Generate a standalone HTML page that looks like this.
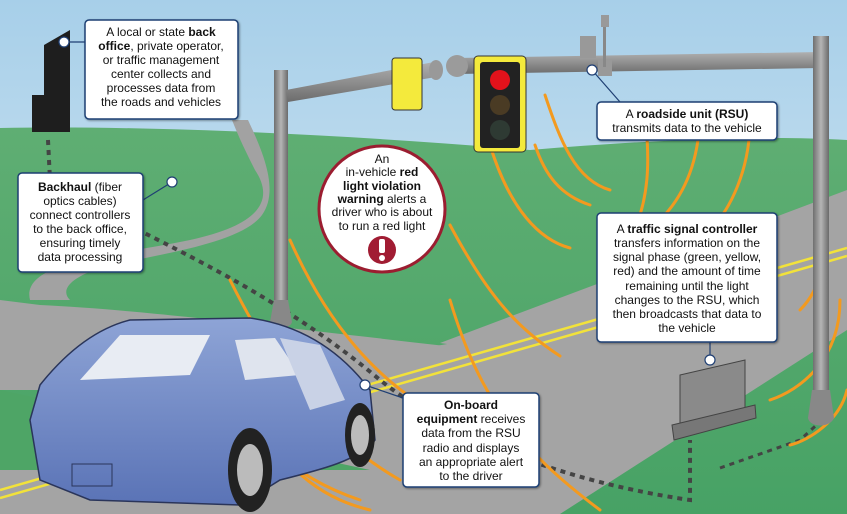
<!DOCTYPE html>
<html><head><meta charset="utf-8"><style>
html,body{margin:0;padding:0;width:847px;height:514px;overflow:hidden}
svg{display:block}
text{font-family:"Liberation Sans",sans-serif;font-size:12px;fill:#111}
.b{font-weight:bold}
</style></head><body>
<svg width="847" height="514" viewBox="0 0 847 514" xmlns="http://www.w3.org/2000/svg">
<defs>
<linearGradient id="sky" x1="0" y1="0" x2="0" y2="1"><stop offset="0" stop-color="#a7cfe9"/><stop offset="1" stop-color="#e4f0f6"/></linearGradient>
<linearGradient id="grass" x1="0" y1="0" x2="0" y2="1"><stop offset="0" stop-color="#5fae73"/><stop offset="1" stop-color="#47a265"/></linearGradient>
<linearGradient id="pole" x1="0" y1="0" x2="1" y2="0"><stop offset="0" stop-color="#6f6f6f"/><stop offset="0.5" stop-color="#b5b5b5"/><stop offset="1" stop-color="#6a6a6a"/></linearGradient>
<linearGradient id="arm" x1="0" y1="0" x2="0" y2="1"><stop offset="0" stop-color="#b0b0b0"/><stop offset="1" stop-color="#6c6c6c"/></linearGradient>
<linearGradient id="car" x1="0" y1="0" x2="0" y2="1"><stop offset="0" stop-color="#8ea4d6"/><stop offset="1" stop-color="#5a73b6"/></linearGradient>
<filter id="sh"><feDropShadow dx="1" dy="1" stdDeviation="1" flood-opacity="0.4"/></filter>
</defs>
<rect width="847" height="514" fill="url(#sky)"/>
<path d="M0,128 C150,125 350,135 530,150 C650,140 760,135 847,140 L847,514 L0,514Z" fill="url(#grass)"/>
<path d="M30,300 C20,260 120,255 190,240 C260,225 275,200 255,170 C245,150 240,140 232,120 L248,120 C262,150 280,190 262,215 C240,245 150,255 100,268 C70,278 60,290 70,300Z" fill="#a2a2a2"/>
<path d="M0,300 L40,305 C150,310 300,330 570,360 L560,410 C400,400 250,390 0,390Z" fill="#a4a4a4"/>
<path d="M0,420 L600,318 L847,238 L847,330 L560,514 L0,514Z" fill="#a4a4a4"/>
<path d="M0,390 L370,470 L0,470Z" fill="#4ea566"/>
<path d="M440,343 L847,190 L847,245 L560,360Z" fill="#a4a4a4"/>
<path d="M0,490 L847,248" stroke="#f2e23a" stroke-width="2.5"/>
<path d="M0,498 L847,256" stroke="#f2e23a" stroke-width="2.5"/>
<path d="M48,140 L50,180 C100,220 250,270 380,380 C480,460 620,490 690,500 L690,440" stroke="#444" stroke-width="4" stroke-dasharray="5,5" fill="none"/>
<path d="M720,468 L800,440 L822,420 L820,400" stroke="#444" stroke-width="3" stroke-dasharray="5,5" fill="none"/>
<path d="M44,45 L70,30 L70,132 L32,132 L32,95 L44,95Z" fill="#1e1e1e"/>
<g stroke="#f39a1f" stroke-width="3" fill="none" stroke-linecap="round">
<path d="M490,145 C510,210 540,240 570,248"/>
<path d="M535,145 C545,175 560,195 590,205"/>
<path d="M545,95 C560,140 575,180 610,190"/>
<path d="M450,225 C490,300 520,330 560,356"/>
<path d="M450,300 C480,400 520,450 600,510"/>
<path d="M420,410 C460,450 480,470 500,470"/>
<path d="M290,240 C330,330 380,380 430,410"/>
<path d="M230,280 C280,380 330,440 400,480"/>
<path d="M200,330 C240,440 300,480 360,500"/>
<path d="M240,400 C290,480 330,500 370,510"/>
<path d="M645,115 C650,160 650,200 630,240"/>
<path d="M700,110 C700,150 690,190 660,220"/>
<path d="M750,120 C750,170 730,210 710,230"/>
<path d="M820,200 C830,260 820,290 800,310"/>
<path d="M840,300 C840,360 800,390 770,400"/>
<path d="M847,390 C840,420 810,440 790,445"/>
</g>
<rect x="274" y="70" width="14" height="232" fill="url(#pole)"/>
<path d="M274,300 L288,300 L292,322 C290,330 272,330 270,322Z" fill="#888"/>
<path d="M286,90 L434,62 L436,77 L288,102Z" fill="url(#arm)"/>
<ellipse cx="436" cy="70" rx="7" ry="10" fill="#999"/>
<path d="M455,58 L820,52 L820,68 L455,74Z" fill="url(#arm)"/>
<circle cx="457" cy="66" r="11" fill="#9b9b9b"/>
<rect x="813" y="36" width="16" height="360" fill="url(#pole)"/>
<path d="M812,390 L830,390 L834,418 C830,428 810,428 808,418Z" fill="#888"/>
<rect x="580" y="36" width="16" height="22" fill="#999"/>
<rect x="601" y="15" width="8" height="12" fill="#999"/>
<rect x="598" y="60" width="14" height="16" fill="#999"/>
<rect x="603" y="27" width="3" height="40" fill="#888"/>
<rect x="392" y="58" width="30" height="52" rx="3" fill="#f4ea3c" stroke="#333"/>
<rect x="474" y="56" width="52" height="96" rx="4" fill="#f4ea3c" stroke="#333"/>
<rect x="480" y="62" width="40" height="86" rx="3" fill="#222"/>
<circle cx="500" cy="80" r="10" fill="#e2121b"/>
<circle cx="500" cy="105" r="10" fill="#4a3b24"/>
<circle cx="500" cy="130" r="10" fill="#2e3a33"/>
<path d="M680,375 L745,360 L745,410 L680,425Z" fill="#8a8a8a" stroke="#444"/>
<path d="M672,425 L755,405 L756,418 L674,440Z" fill="#777" stroke="#444"/>
<path d="M40,385 C60,360 90,330 130,320 L250,318 C300,325 340,350 370,390 L375,440 C360,460 320,470 280,480 L240,505 L90,500 L40,480 L30,420Z" fill="url(#car)" stroke="#2a355a" stroke-width="1.5"/>
<path d="M80,380 L120,335 L210,335 L190,375Z" fill="#e8ecf3"/>
<path d="M235,340 L275,338 L300,375 L245,380Z" fill="#dfe4ee"/>
<path d="M280,338 L320,345 L345,400 L310,410Z" fill="#c9d2e6"/>
<ellipse cx="250" cy="470" rx="22" ry="42" fill="#222"/>
<ellipse cx="250" cy="470" rx="13" ry="26" fill="#bbb"/>
<ellipse cx="360" cy="435" rx="15" ry="32" fill="#222"/>
<ellipse cx="360" cy="435" rx="9" ry="20" fill="#bbb"/>
<rect x="72" y="464" width="40" height="22" fill="none" stroke="#2a355a"/>
<g stroke="#1f3f73" stroke-width="1.2" fill="#fff">
<line x1="64" y1="42" x2="85" y2="42"/>
<line x1="143" y1="200" x2="172" y2="182"/>
<line x1="592" y1="70" x2="620" y2="102"/>
<line x1="710" y1="342" x2="710" y2="360"/>
<line x1="365" y1="385" x2="403" y2="398"/>
<circle cx="64" cy="42" r="5"/>
<circle cx="172" cy="182" r="5"/>
<circle cx="592" cy="70" r="5"/>
<circle cx="710" cy="360" r="5"/>
<circle cx="365" cy="385" r="5"/>
</g>
<g fill="#fff" stroke="#1f3f73" stroke-width="1.5" filter="url(#sh)">
<rect x="85" y="20" width="153" height="99" rx="4"/>
<rect x="18" y="173" width="125" height="99" rx="4"/>
<rect x="597" y="102" width="180" height="38" rx="4"/>
<rect x="597" y="213" width="180" height="129" rx="4"/>
<rect x="403" y="393" width="136" height="94" rx="4"/>
</g>
<circle cx="382" cy="209" r="63" fill="#fff" stroke="#9b1d30" stroke-width="3"/>
<circle cx="382" cy="250" r="14" fill="#a11c33"/>
<rect x="379" y="239" width="6" height="14" rx="2" fill="#fff"/>
<circle cx="382" cy="258" r="3" fill="#fff"/>
<g text-anchor="middle">
<text x="161" y="36">A local or state <tspan class="b">back</tspan></text>
<text x="161" y="50"><tspan class="b">office</tspan>, private operator,</text>
<text x="161" y="64">or traffic management</text>
<text x="161" y="78">center collects and</text>
<text x="161" y="92">processes data from</text>
<text x="161" y="106">the roads and vehicles</text>
<text x="80" y="191"><tspan class="b">Backhaul</tspan> (fiber</text>
<text x="80" y="205">optics cables)</text>
<text x="80" y="219">connect controllers</text>
<text x="80" y="233">to the back office,</text>
<text x="80" y="247">ensuring timely</text>
<text x="80" y="261">data processing</text>
<text x="687" y="118">A <tspan class="b">roadside unit (RSU)</tspan></text>
<text x="687" y="132">transmits data to the vehicle</text>
<text x="687" y="233">A <tspan class="b">traffic signal controller</tspan></text>
<text x="687" y="247">transfers information on the</text>
<text x="687" y="261">signal phase (green, yellow,</text>
<text x="687" y="275">red) and the amount of time</text>
<text x="687" y="290">remaining until the light</text>
<text x="687" y="304">changes to the RSU, which</text>
<text x="687" y="318">then broadcasts that data to</text>
<text x="687" y="332">the vehicle</text>
<text x="471" y="409" class="b">On-board</text>
<text x="471" y="423"><tspan class="b">equipment</tspan> receives</text>
<text x="471" y="437">data from the RSU</text>
<text x="471" y="452">radio and displays</text>
<text x="471" y="466">an appropriate alert</text>
<text x="471" y="480">to the driver</text>
<text x="382" y="163">An</text>
<text x="382" y="176">in-vehicle <tspan class="b">red</tspan></text>
<text x="382" y="190" class="b">light violation</text>
<text x="382" y="203"><tspan class="b">warning</tspan> alerts a</text>
<text x="382" y="216">driver who is about</text>
<text x="382" y="230">to run a red light</text>
</g>
</svg>
</body></html>
